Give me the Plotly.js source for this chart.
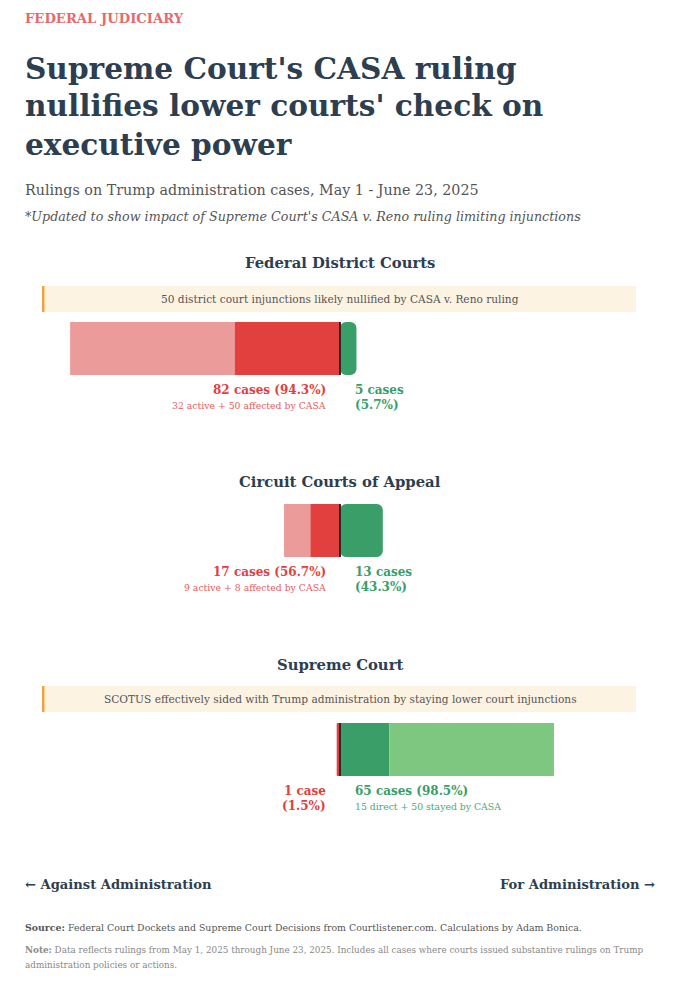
<!DOCTYPE html>
<html><head><meta charset="utf-8">
<script src="https://cdn.plot.ly/plotly-3.0.1.min.js"></script>
<style>html,body{margin:0;padding:0;background:#fff}#chart{width:681px;height:1000px}</style>
</head><body><div id="chart"></div>
<script>
// ---- data ----
const courts = ["Federal District Courts", "Circuit Courts of Appeal", "Supreme Court"];
const againstActive = [32, 9, 1];     // rulings against administration, still active
const againstCasa = [50, 8, 0];       // rulings against administration, affected by CASA
const forDirect = [5, 13, 15];        // rulings for administration, direct
const forCasa = [0, 0, 50];           // stayed by CASA
const callouts = ["50 district court injunctions likely nullified by CASA v. Reno ruling", "", "SCOTUS effectively sided with Trump administration by staying lower court injunctions"];
const titleLines = ["Supreme Court's CASA ruling", "nullifies lower courts' check on", "executive power"];

// ---- style / positions (px from top) ----
const W = 681, H = 1000;
const SERIF = "Georgia, 'DejaVu Serif', serif";
const C = {red: "#E23F3F", lightRed: "#EC9B9B", green: "#3A9E69", lightGreen: "#7EC780", dark: "#2C3E50", zero: "#2b2b2b"};
const rows = [
  {head: 262, box: [286, 312], bar: [322, 375], lab1: 390, lab2: 405},
  {head: 481, box: null, bar: [504, 557], lab1: 572, lab2: 587},
  {head: 664, box: [686, 712], bar: [723, 776], lab1: 791, lab2: 806}
];
const titleY = [68, 106, 144];
const py = p => 1 - p / H;
const px = p => p / W;

const traces = [];
const shapes = [];
const ann = [];
const layout = {
  width: W, height: H, margin: {l: 0, r: 0, t: 0, b: 0},
  paper_bgcolor: "#fff", plot_bgcolor: "rgba(0,0,0,0)",
  barmode: "overlay", showlegend: false,
  xaxis: {range: [-103.3, 103.6], visible: false, fixedrange: true},
  font: {family: SERIF}
};

courts.forEach((court, i) => {
  const sfx = i === 0 ? "" : String(i + 1);
  const r = rows[i];
  const yname = "y" + sfx;
  layout["yaxis" + sfx] = {domain: [py(r.bar[1]), py(r.bar[0])], range: [-0.5, 0.5], visible: false, fixedrange: true, type: "category", anchor: "x"};
  const base = {type: "bar", orientation: "h", y: [court], yaxis: yname, xaxis: "x", width: [1], hoverinfo: "skip"};
  traces.push(Object.assign({}, base, {name: "Against (affected by CASA)", x: [-againstCasa[i]], base: [-againstActive[i]], marker: {color: C.lightRed, line: {width: 0}}}));
  traces.push(Object.assign({}, base, {name: "Against (active)", x: [-againstActive[i]], base: [0], marker: {color: C.red, line: {width: 0}, cornerradius: againstCasa[i] === 0 ? 4 : 0}}));
  traces.push(Object.assign({}, base, {name: "For (direct)", x: [forDirect[i]], base: [0], marker: {color: C.green, line: {width: 0}, cornerradius: forCasa[i] === 0 ? 6 : 0}}));
  traces.push(Object.assign({}, base, {name: "For (stayed by CASA)", x: [forCasa[i]], base: [forDirect[i]], marker: {color: C.lightGreen, line: {width: 0}}}));
  shapes.push({type: "line", xref: "x", yref: yname + " domain", x0: 0, x1: 0, y0: 0, y1: 1, line: {color: C.zero, width: 2}});

  // section heading
  ann.push({text: "<b>" + court + "</b>", x: px(340), y: py(r.head), xref: "paper", yref: "paper", xanchor: "center", yanchor: "middle", showarrow: false, font: {family: SERIF, size: 14.8, color: C.dark}});
  // callout box
  if (r.box && callouts[i]) {
    shapes.push({type: "rect", xref: "paper", yref: "paper", x0: px(42), x1: px(636), y0: py(r.box[1]), y1: py(r.box[0]), fillcolor: "#FDF3E3", line: {width: 0}, layer: "below"});
    shapes.push({type: "rect", xref: "paper", yref: "paper", x0: px(42), x1: px(44.5), y0: py(r.box[1]), y1: py(r.box[0]), fillcolor: "#F2A23A", line: {width: 0}, layer: "below"});
    ann.push({text: callouts[i], x: px(340), y: py((r.box[0] + r.box[1]) / 2), xref: "paper", yref: "paper", xanchor: "center", yanchor: "middle", showarrow: false, font: {family: SERIF, size: 10.6, color: "#555"}});
  }
  // labels
  const aTot = againstActive[i] + againstCasa[i];
  const fTot = forDirect[i] + forCasa[i];
  const tot = aTot + fTot;
  const aPct = (aTot / tot * 100).toFixed(1);
  const fPct = (fTot / tot * 100).toFixed(1);
  const word = n => n === 1 ? "case" : "cases";
  const lx = px(328), rx = px(353);
  const lab = (t, x, y, xa, size, color) => ann.push({text: t, x: x, y: py(y), xref: "paper", yref: "paper", xanchor: xa, yanchor: "middle", showarrow: false, align: xa, font: {family: SERIF, size: size, color: color}});
  if (againstCasa[i] > 0) {
    lab("<b>" + aTot + " " + word(aTot) + " (" + aPct + "%)</b>", lx, r.lab1, "right", 12, C.red);
    lab(againstActive[i] + " active + " + againstCasa[i] + " affected by CASA", lx, r.lab2, "right", 9.3, "#E85A5A");
  } else {
    lab("<b>" + aTot + " " + word(aTot) + "</b>", lx, r.lab1, "right", 12, C.red);
    lab("<b>(" + aPct + "%)</b>", lx, r.lab2, "right", 12, C.red);
  }
  if (forCasa[i] > 0) {
    lab("<b>" + fTot + " " + word(fTot) + " (" + fPct + "%)</b>", rx, r.lab1, "left", 12, C.green);
    lab(forDirect[i] + " direct + " + forCasa[i] + " stayed by CASA", rx, r.lab2, "left", 9.3, "#4DA874");
  } else {
    lab("<b>" + fTot + " " + word(fTot) + "</b>", rx, r.lab1, "left", 12, C.green);
    lab("<b>(" + fPct + "%)</b>", rx, r.lab2, "left", 12, C.green);
  }
});

// header & footer text
const t = (text, x, y, xa, size, color) => ann.push({text: text, x: px(x), y: py(y), xref: "paper", yref: "paper", xanchor: xa, yanchor: "middle", showarrow: false, align: xa, font: {family: SERIF, size: size, color: color}});
t("<b>FEDERAL JUDICIARY</b>", 23, 18, "left", 13.2, "#E8686B");
titleLines.forEach((line, k) => t("<b>" + line + "</b>", 23, titleY[k], "left", 29.6, C.dark));
t("Rulings on Trump administration cases, May 1 - June 23, 2025", 23, 190, "left", 14.3, "#555");
t("<i>*Updated to show impact of Supreme Court's CASA v. Reno ruling limiting injunctions</i>", 23, 217, "left", 12.7, "#555");
t("<b>← Against Administration</b>", 23, 884, "left", 13.1, C.dark);
t("<b>For Administration →</b>", 657, 884, "right", 13.1, C.dark);
t("<b>Source:</b> Federal Court Dockets and Supreme Court Decisions from Courtlistener.com. Calculations by Adam Bonica.", 23, 927, "left", 9.4, "#555");
t("<b>Note:</b> Data reflects rulings from May 1, 2025 through June 23, 2025. Includes all cases where courts issued substantive rulings on Trump", 23, 950, "left", 8.8, "#888");
t("administration policies or actions.", 23, 965, "left", 8.8, "#888");

layout.shapes = shapes;
layout.annotations = ann;
Plotly.newPlot("chart", traces, layout, {displayModeBar: false, staticPlot: true});
</script>
</body></html>
